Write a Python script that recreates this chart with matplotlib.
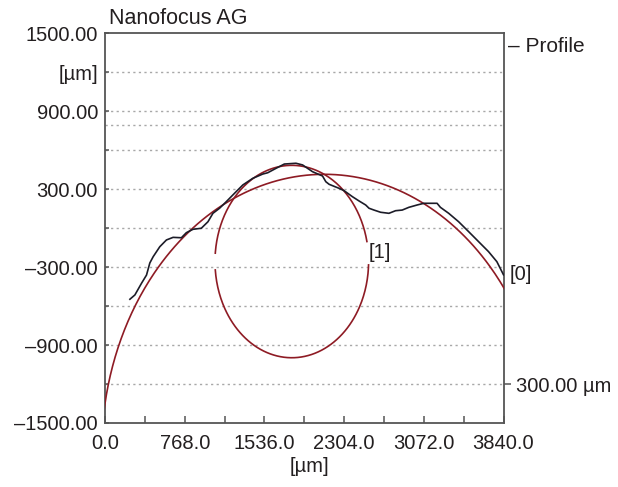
import matplotlib
matplotlib.use("Agg")
import matplotlib.pyplot as plt
import numpy as np

plt.rcParams["font.family"] = ["Liberation Sans", "DejaVu Sans"]

# ── Data ─────────────────────────────────────────────────────────────────────
profile_x = [240, 288, 352, 400, 432, 464, 528, 592, 656, 736, 784, 848, 928,
             992, 1040, 1104, 1168, 1248, 1328, 1424, 1520, 1568, 1648, 1728,
             1840, 1904, 2000, 2096, 2128, 2160, 2256, 2304, 2384, 2448, 2512,
             2544, 2592, 2656, 2736, 2800, 2864, 2928, 3008, 3072, 3200, 3232,
             3312, 3408, 3504, 3600, 3696, 3776, 3840]
profile_y = [-548, -515, -425, -362, -269, -221, -144, -92, -72, -75, -36, -10,
             -2, 48, 113, 152, 202, 267, 331, 382, 415, 425, 459, 492, 498,
             485, 433, 400, 356, 336, 305, 287, 241, 208, 177, 152, 138, 121,
             113, 133, 138, 159, 177, 190, 190, 159, 113, 48, -28, -105, -182,
             -259, -360]

# fitted circles [0] and [1] (centre x, centre y, radius in µm)
fit0_center = (2114, -1736)
fit0_radius = 2149
fit1_center = (1800, -258)
fit1_radius = 740
fit1_arcs = [(12, 175), (185, 358)]   # drawn angle ranges, degrees

x_ticks = [0, 768, 1536, 2304, 3072, 3840]
x_minor = [384, 1152, 1920, 2688, 3456]
y_ticks = [1500, 1200, 900, 600, 300, 0, -300, -600, -900, -1200, -1500]
y_labels = ["1500.00", "[\u00b5m]", "900.00", "", "300.00", "", "\u2013300.00",
            "", "\u2013900.00", "", "\u20131500.00"]
grid_y = [1200, 900, 790, 600, 300, 0, -300, -600, -900, -1200]

_TEXT = "#231f20"
_BLACK = "#1c1c28"
_RED = "#8e1b24"
_GRID = "#a8a8a8"
_SPINE = "#555555"

fig = plt.figure(figsize=(6.18, 4.87), dpi=100)
ax = fig.add_axes([105 / 618, 1 - 423 / 487, 398.5 / 618, 390 / 487])
ax.set_xlim(0, 3840)
ax.set_ylim(-1500, 1500)

for gy in grid_y:
    ax.axhline(gy, color=_GRID, linewidth=1.0, linestyle=(0, (1.6, 2.4)), zorder=1)

# fit [0] – large circle, clipped by axes
t = np.linspace(0, 2 * np.pi, 720)
ax.plot(fit0_center[0] + fit0_radius * np.cos(t),
        fit0_center[1] + fit0_radius * np.sin(t),
        color=_RED, linewidth=1.2, zorder=3)

# fit [1] – small circle with gaps
for a0, a1 in fit1_arcs:
    a = np.radians(np.linspace(a0, a1, 200))
    ax.plot(fit1_center[0] + fit1_radius * np.cos(a),
            fit1_center[1] + fit1_radius * np.sin(a),
            color=_RED, linewidth=1.2, zorder=3)

ax.plot(profile_x, profile_y, color=_BLACK, linewidth=1.2, zorder=4)

ax.text(2650, -185, "[1]", fontsize=14.5, color=_TEXT, ha="center", va="center")

# axes styling
for spine in ax.spines.values():
    spine.set_edgecolor(_SPINE)
    spine.set_linewidth(1.3)

ax.set_xticks(x_ticks)
ax.set_xticklabels([f"{v:.1f}" for v in x_ticks])
ax.set_xticks(x_minor, minor=True)
ax.tick_params(axis="x", which="both", direction="in", length=5, width=1.1,
               color=_SPINE, labelsize=14.5, labelcolor=_TEXT, pad=8)
ax.set_yticks(y_ticks)
ax.set_yticklabels(y_labels)
ax.tick_params(axis="y", direction="in", length=3, width=1.1, color=_SPINE,
               labelsize=14.5, labelcolor=_TEXT, pad=5)

# right side: scale bar tick
ax2 = ax.twinx()
ax2.set_ylim(-1500, 1500)
ax2.set_yticks([-1200])
ax2.set_yticklabels(["300.00 \u00b5m"])
ax2.tick_params(axis="y", direction="out", length=5, width=1.1, color=_SPINE,
                labelsize=14.5, labelcolor=_TEXT, pad=4)
for spine in ax2.spines.values():
    spine.set_visible(False)

ax.text(1.011, 0.965, "\u2013 Profile", transform=ax.transAxes, fontsize=15,
        color=_TEXT, ha="left", va="center")
ax.text(1.016, 0.382, "[0]", transform=ax.transAxes, fontsize=14.5,
        color=_TEXT, ha="left", va="center")

fig.text(109 / 618, 1 - 24 / 487, "Nanofocus AG", fontsize=15.5, color=_TEXT,
         ha="left", va="baseline")
fig.text(309 / 618, 1 - 467 / 487, "[\u00b5m]", fontsize=14.5, color=_TEXT,
         ha="center", va="center")

fig.savefig("out.png", dpi=100, facecolor="white")
